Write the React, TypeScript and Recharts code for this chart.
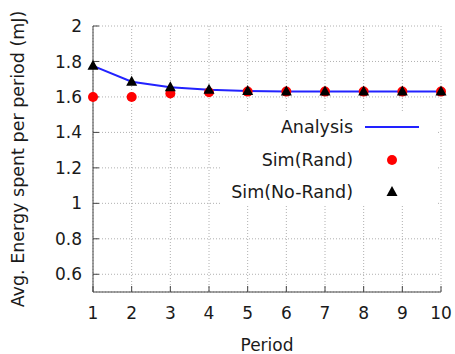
import React from 'react';
import { ComposedChart, Line, XAxis, YAxis, CartesianGrid } from 'recharts';

const periods = [1, 2, 3, 4, 5, 6, 7, 8, 9, 10];
const analysis = [1.775, 1.686, 1.654, 1.64, 1.634, 1.631, 1.63, 1.63, 1.63, 1.63];
const simRand = [1.6, 1.6, 1.619, 1.626, 1.63, 1.63, 1.63, 1.63, 1.63, 1.63];
const simNoRand = [1.776, 1.686, 1.654, 1.64, 1.634, 1.631, 1.63, 1.63, 1.63, 1.63];
const xTicks = [1, 2, 3, 4, 5, 6, 7, 8, 9, 10];
const yTicks = [0.6, 0.8, 1, 1.2, 1.4, 1.6, 1.8, 2];
const legendLabels = ['Analysis', 'Sim(Rand)', 'Sim(No-Rand)'];

const data = periods.map((p, i) => ({
  period: p,
  analysis: analysis[i],
  simRand: simRand[i],
  simNoRand: simNoRand[i],
}));

const FONT = '"DejaVu Sans", sans-serif';
const AXIS = '#444';
const TEXT = '#1a1a1a';
const BLUE = '#2222ff';

const Triangle = (props: any) => {
  const { cx, cy, index } = props;
  if (cx == null || cy == null) return <g key={`t${index}`} />;
  return (
    <polygon
      key={`t${index}`}
      points={`${cx},${cy - 6} ${cx - 5.5},${cy + 4} ${cx + 5.5},${cy + 4}`}
      fill="#000"
    />
  );
};

const Circle = (props: any) => {
  const { cx, cy, index } = props;
  if (cx == null || cy == null) return <g key={`c${index}`} />;
  return <circle key={`c${index}`} cx={cx} cy={cy} r={5} fill="#ff0000" />;
};

const LegendBox = () => (
  <div style={{ position: 'absolute', left: 222, top: 112, width: 214, height: 94, background: '#fff' }}>
    <svg width={214} height={94} style={{ display: 'block' }}>
      <g fontFamily={FONT} fontSize={17.5} fill={TEXT} textAnchor="end">
        <text x={131} y={21}>{legendLabels[0]}</text>
        <text x={131} y={54}>{legendLabels[1]}</text>
        <text x={131} y={86}>{legendLabels[2]}</text>
      </g>
      <line x1={143} y1={15} x2={197} y2={15} stroke={BLUE} strokeWidth={2} />
      <circle cx={170} cy={48} r={5} fill="#ff0000" />
      <polygon points={`170,74 164.5,84 175.5,84`} fill="#000" />
    </svg>
  </div>
);

export default function App() {
  return (
    <div style={{ position: 'relative', width: 455, height: 354 }}>
      <style>{`html,body{margin:0;padding:0;overflow:hidden}`}</style>
      <ComposedChart
        width={455}
        height={354}
        data={data}
        margin={{ top: 26, right: 14, left: 0, bottom: 0 }}
        style={{ fontFamily: FONT }}
      >
        <CartesianGrid stroke="#b0b0b0" strokeDasharray="1 2" />
        <XAxis
          dataKey="period"
          type="number"
          domain={[1, 10]}
          ticks={xTicks}
          interval={0}
          height={62}
          stroke={AXIS}
          tickSize={-6}
          tickMargin={21}
          tick={{ fill: TEXT, fontSize: 17, fontFamily: FONT }}
          label={{ value: 'Period', position: 'insideBottom', offset: 3, fill: TEXT, fontSize: 17, fontFamily: FONT }}
        />
        <XAxis
          xAxisId="t"
          dataKey="period"
          type="number"
          orientation="top"
          domain={[1, 10]}
          ticks={xTicks}
          interval={0}
          height={0}
          stroke={AXIS}
          tickSize={-6}
          tick={false}
        />
        <YAxis
          type="number"
          domain={[0.5, 2]}
          ticks={yTicks}
          interval={0}
          width={93}
          stroke={AXIS}
          tickSize={-6}
          tickMargin={17}
          allowDataOverflow
          tick={{ fill: TEXT, fontSize: 17, fontFamily: FONT }}
          label={{
            value: 'Avg. Energy spent per period (mJ)',
            angle: -90,
            position: 'insideLeft',
            offset: 18,
            fill: TEXT,
            fontSize: 17.5,
            fontFamily: FONT,
            style: { textAnchor: 'middle' },
          }}
        />
        <YAxis
          yAxisId="r"
          orientation="right"
          type="number"
          domain={[0.5, 2]}
          ticks={yTicks}
          interval={0}
          width={0}
          stroke={AXIS}
          tickSize={-6}
          tick={false}
          allowDataOverflow
        />
        <Line
          dataKey="analysis"
          stroke={BLUE}
          strokeWidth={2}
          dot={false}
          isAnimationActive={false}
          legendType="none"
        />
        <Line
          dataKey="simRand"
          stroke="none"
          dot={Circle}
          activeDot={false}
          isAnimationActive={false}
          legendType="none"
        />
        <Line
          dataKey="simNoRand"
          stroke="none"
          dot={Triangle}
          activeDot={false}
          isAnimationActive={false}
          legendType="none"
        />
      </ComposedChart>
      <LegendBox />
    </div>
  );
}
